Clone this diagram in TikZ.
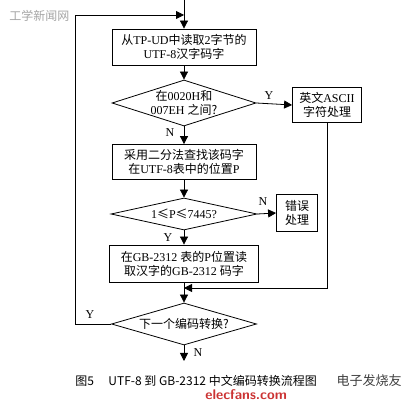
\documentclass[tikz,border=0pt]{standalone}
\usepackage{fontspec}
\setmainfont{Liberation Serif}
\newfontfamily\cjk{Noto Sans CJK SC}
\usetikzlibrary{shapes.geometric,arrows.meta}
\begin{document}
\begin{tikzpicture}[x=1pt,y=-1pt,
  line width=0.8pt,
  every node/.style={font=\fontsize{12}{14}\selectfont},
  procbox/.style={draw,rectangle,inner sep=0pt,align=center},
  dia/.style={draw,diamond,inner sep=0pt},
  txt/.style={align=center,inner sep=0pt},
  lbl/.style={inner sep=0pt,font=\fontsize{12}{14}\selectfont},
  arr/.style={-{Triangle[length=8pt,width=8pt]}},
  wmark/.style={font=\cjk\fontsize{12}{14}\selectfont,text=gray!70,inner sep=0pt}
]
\useasboundingbox[fill=white] (0,0) rectangle (413,403);

% boxes
\node[procbox,minimum width=144,minimum height=36] (b1) at (184,47)
  {{\cjk 从}TP-UD{\cjk 中读取}2{\cjk 字节的}\\UTF-8{\cjk 汉字码字}};
\node[dia,minimum width=144,minimum height=46] (d1) at (184,103) {};
\node[txt] at (d1) {{\cjk 在}0020H{\cjk 和}\\007EH {\cjk 之间?}};
\node[procbox,minimum width=69,minimum height=35] (asc) at (327,105)
  {{\cjk 英文}ASCII\\{\cjk 字符处理}};
\node[procbox,minimum width=144,minimum height=35] (b2) at (184,162)
  {{\cjk 采用二分法查找该码字}\\{\cjk 在}UTF-8{\cjk 表中的位置}P};
\node[dia,minimum width=146,minimum height=32] (d2) at (184,214) {};
\node[txt] at (d2) {1{\cjk ≤}P{\cjk ≤}7445?};
\node[procbox,minimum width=41,minimum height=37] (err) at (297,213)
  {{\cjk 错误}\\{\cjk 处理}};
\node[procbox,minimum width=149,minimum height=37] (b3) at (184,263.5)
  {{\cjk 在}GB-2312 {\cjk 表的}P{\cjk 位置读}\\{\cjk 取汉字的}GB-2312 {\cjk 码字}};
\node[dia,minimum width=145,minimum height=42] (d3) at (184,324) {};
\node[txt] at (d3) {{\cjk 下一个编码转换?}};

% helper coordinates
\coordinate (top) at (184,0);
\coordinate (loopA) at (75,324);
\coordinate (loopB) at (75,15);
\coordinate (loopC) at (184,15);
\coordinate (mergeA) at (327,288);
\coordinate (mergeB) at (184,288);
\coordinate (endN) at (184,361);

% connectors
\draw[arr] (top) -- (b1.north);
\draw[arr] (d3.west) -- (loopA) -- (loopB) -- (loopC);
\draw[arr] (b1.south) -- (d1.north);
\draw[arr] (d1.east) -- (asc.west);
\draw[arr] (d1.south) -- (b2.north);
\draw[arr] (b2.south) -- (d2.north);
\draw[arr] (d2.east) -- (err.west);
\draw[arr] (d2.south) -- (b3.north);
\draw[arr] (asc.south) -- (mergeA) -- (mergeB);
\draw[arr] (b3.south) -- (d3.north);
\draw[arr] (d3.south) -- (endN);

% labels
\node[lbl] at (269,96) {Y};
\node[lbl] at (170,133) {N};
\node[lbl] at (263,202) {N};
\node[lbl] at (168,238) {Y};
\node[lbl] at (90,315) {Y};
\node[lbl] at (198,353) {N};

% caption
\node[inner sep=0pt,anchor=west,font=\cjk\fontsize{12}{14}\selectfont] (cap) at (75,381)
  {图5\hspace{1.2em}UTF-8 到 GB-2312 中文编码转换流程图};

% watermarks
\node[wmark,anchor=west] (wm1) at (9,16) {工学新闻网};
\node[inner sep=0pt,anchor=west,font=\sffamily\bfseries\fontsize{14}{16}\selectfont,text=red!75!black,opacity=0.8] (wm2) at (205,395) {elecfans.com};
\node[inner sep=0pt,anchor=east,font=\cjk\fontsize{13}{15}\selectfont,text=black!75] (wm3) at (402,381) {电子发烧友};
\end{tikzpicture}
\end{document}
